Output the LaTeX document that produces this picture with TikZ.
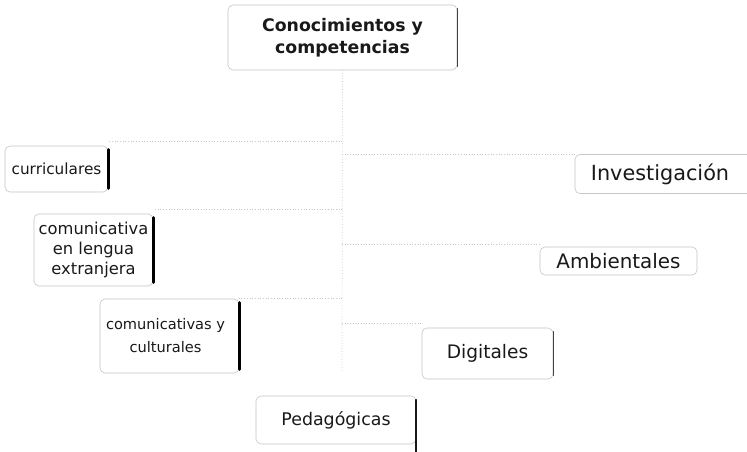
\documentclass[tikz,border=0pt]{standalone}
\usepackage{fontspec}
\setmainfont{DejaVu Sans}
\begin{document}
\begin{tikzpicture}[x=1pt,y=-1pt,
  box/.style={draw=gray!45, line width=0.6pt, rounded corners=5pt, inner sep=0pt, align=center, text=black!90},
  barthick/.style={line width=3.2pt, line cap=round, black},
  barmid/.style={line width=1.8pt, line cap=round, black!90},
  barthin/.style={line width=1pt, line cap=round, black!75},
  conn/.style={gray!45, dotted, line width=0.7pt}]
\useasboundingbox (0,0) rectangle (747,452);
\clip (0,0) rectangle (747,452);
\fill[white] (0,0) rectangle (747,452);

\node[box, minimum width=229pt, minimum height=65pt, font={\bfseries\fontsize{17.3}{22}\selectfont}] (top) at (342.5,37.5) {Conocimientos y\\competencias};
\node[box, minimum width=103pt, minimum height=46pt, font={\fontsize{15.3}{18}\selectfont}] (cur) at (56.5,169) {curriculares};
\node[box, minimum width=119pt, minimum height=72pt, font={\fontsize{16.3}{20}\selectfont}] (com) at (93.5,250) {comunicativa\\en lengua\\extranjera};
\node[box, minimum width=139pt, minimum height=74pt, font={\fontsize{14.6}{23}\selectfont}] (comy) at (169.5,336) {\hspace*{-8pt}comunicativas y\\\hspace*{-8pt}culturales};
\node[box, minimum width=180pt, minimum height=39pt, font={\fontsize{20.8}{24}\selectfont}] (inv) at (665,174) {\hspace*{-10pt}Investigación};
\node[box, minimum width=157pt, minimum height=28pt, font={\fontsize{19.9}{23}\selectfont}] (amb) at (618.5,261) {Ambientales};
\node[box, minimum width=131pt, minimum height=51pt, font={\fontsize{18.6}{22}\selectfont}] (dig) at (487.5,353.5) {Digitales};
\node[box, minimum width=160pt, minimum height=48pt, font={\fontsize{17.4}{21}\selectfont}] (ped) at (336,420) {Pedagógicas};

% darker right edges
\draw[barthin] ([yshift=-4pt]top.north east) -- ([yshift=4pt]top.south east);
\draw[barthick] ([yshift=-4pt]cur.north east) -- ([yshift=4pt]cur.south east);
\draw[barthick] ([yshift=-4pt]com.north east) -- ([yshift=4pt]com.south east);
\draw[barthick] ([yshift=-4pt]comy.north east) -- ([yshift=4pt]comy.south east);
\draw[barthin] ([yshift=-4pt]dig.north east) -- ([yshift=4pt]dig.south east);
\draw[barmid] ([yshift=-4pt]ped.north east) -- ([yshift=-10pt]ped.south east);

% connectors
\coordinate (tend) at (342,372);
\coordinate (b1) at (342,141);
\coordinate (b2) at (342,154);
\coordinate (b3) at (342,209);
\coordinate (b4) at (342,244);
\coordinate (b5) at (342,298);
\coordinate (b6) at (342,323);
\draw[conn] (top.south) -- (tend);
\draw[conn] (b1) -- (b1 -| cur.east);
\draw[conn] (b2) -- (b2 -| inv.west);
\draw[conn] (b3) -- (b3 -| com.east);
\draw[conn] (b4) -- (b4 -| amb.west);
\draw[conn] (b5) -- (b5 -| comy.east);
\draw[conn] (b6) -- (b6 -| dig.west);
\end{tikzpicture}
\end{document}
